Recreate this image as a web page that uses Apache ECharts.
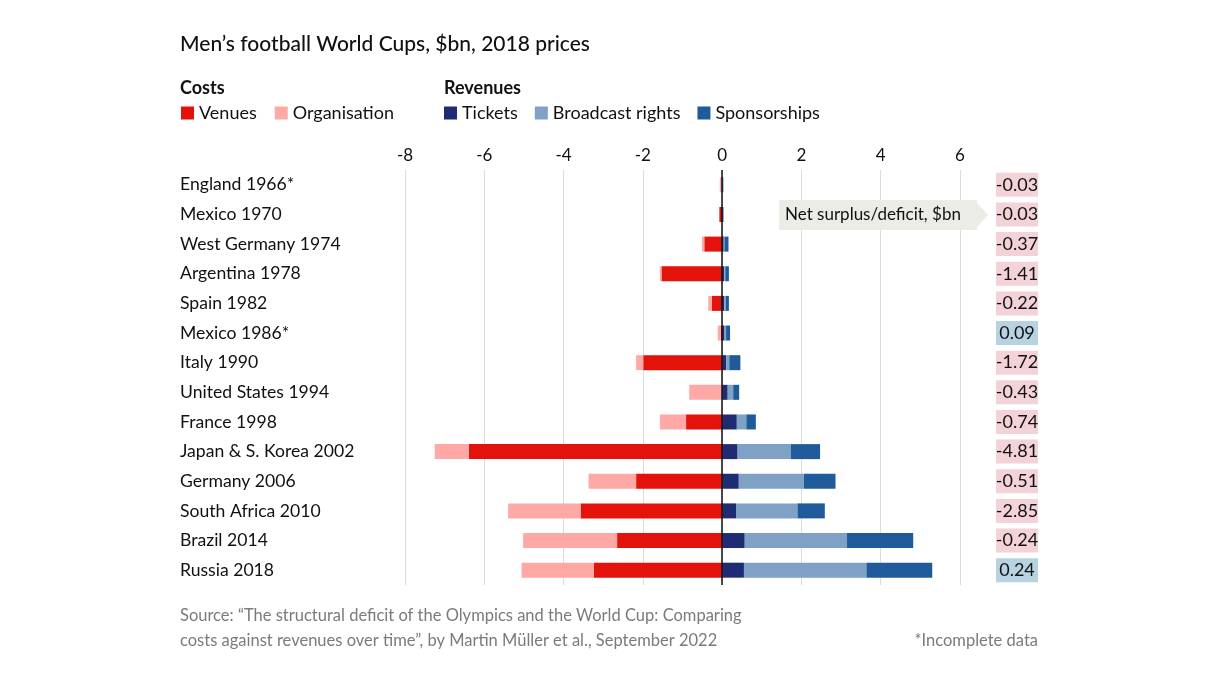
<!DOCTYPE html>
<html>
<head>
<meta charset="utf-8">
<script src="https://cdn.jsdelivr.net/npm/echarts@6/dist/echarts.min.js"></script>
<style>
html,body{margin:0;padding:0;background:#fff;}
#c{width:1226px;height:690px;}
</style>
</head>
<body>
<div id="c"></div>
<script>
const categories = ['England 1966*','Mexico 1970','West Germany 1974','Argentina 1978','Spain 1982','Mexico 1986*','Italy 1990','United States 1994','France 1998','Japan & S. Korea 2002','Germany 2006','South Africa 2010','Brazil 2014','Russia 2018'];
const venues       = [0, -0.07, -0.45, -1.53, -0.26, -0.03, -1.99, 0, -0.91, -6.39, -2.17, -3.57, -2.65, -3.24];
const organisation = [-0.06, 0, -0.06, -0.04, -0.09, -0.08, -0.18, -0.83, -0.66, -0.86, -1.20, -1.83, -2.37, -1.82];
const tickets      = [0.02, 0.02, 0.04, 0.05, 0.05, 0.06, 0.10, 0.14, 0.37, 0.39, 0.42, 0.35, 0.57, 0.55];
const broadcast    = [0.00, 0.01, 0.02, 0.03, 0.04, 0.04, 0.08, 0.14, 0.24, 1.34, 1.64, 1.55, 2.58, 3.09];
const sponsorships = [0.01, 0.01, 0.10, 0.09, 0.08, 0.10, 0.28, 0.15, 0.24, 0.74, 0.80, 0.69, 1.67, 1.66];
const netBalance   = [-0.03, -0.03, -0.37, -1.41, -0.22, 0.09, -1.72, -0.43, -0.74, -4.81, -0.51, -2.85, -0.24, 0.24];
const xTicks = [-8, -6, -4, -2, 0, 2, 4, 6];

const FONT = 'Lato';
const colors = {
  venues: '#e3120b', organisation: '#ffa9a6',
  tickets: '#1f2b73', broadcast: '#7fa1c5', sponsorships: '#1f5b9b'
};

const chart = echarts.init(document.getElementById('c'), null, {renderer: 'canvas'});

function barSeries(name, data, color, extra) {
  return Object.assign({
    name: name, type: 'bar', stack: 'all', data: data, barWidth: 15,
    itemStyle: {color: color}, emphasis: {disabled: true}, silent: true
  }, extra || {});
}

const option = {
  animation: false,
  textStyle: {fontFamily: FONT},
  title: {
    text: 'Men’s football World Cups, $bn, 2018 prices',
    left: 180, top: 34, padding: 0,
    textStyle: {fontFamily: FONT, fontSize: 21, fontWeight: 500, color: '#111'}
  },
  legend: [
    {
      data: ['Venues', 'Organisation'], left: 181, top: 104, padding: 0,
      icon: 'rect', itemWidth: 13, itemHeight: 13, itemGap: 18,
      textStyle: {fontFamily: FONT, fontSize: 18, color: '#111'},
      selectedMode: false
    },
    {
      data: ['Tickets', 'Broadcast rights', 'Sponsorships'], left: 444, top: 104, padding: 0,
      icon: 'rect', itemWidth: 13, itemHeight: 13, itemGap: 17,
      textStyle: {fontFamily: FONT, fontSize: 18, color: '#111'},
      selectedMode: false
    }
  ],
  grid: {left: 405, right: 266, top: 170, bottom: 105, containLabel: false},
  xAxis: {
    type: 'value', position: 'top', min: -8, max: 6, interval: 2,
    axisLine: {show: false}, axisTick: {show: false},
    axisLabel: {
      margin: 6, fontFamily: FONT, fontSize: 17, color: '#111',
      formatter: function (v) { return xTicks.indexOf(v) >= 0 ? String(v) : ''; }
    },
    splitLine: {show: true, lineStyle: {color: '#dcdcdc', width: 1}}
  },
  yAxis: [
    {
      type: 'category', data: categories, inverse: true,
      axisLine: {show: false}, axisTick: {show: false},
      axisLabel: {align: 'left', margin: 225, fontFamily: FONT, fontSize: 17.6, color: '#111'}
    },
    {
      type: 'category', data: categories, inverse: true, position: 'right',
      axisLine: {show: false}, axisTick: {show: false},
      axisLabel: {
        align: 'left', margin: 36,
        formatter: function (v, i) {
          const n = netBalance[i];
          return (n < 0 ? '{neg|' : '{pos|') + n.toFixed(2) + '}';
        },
        rich: {
          neg: {backgroundColor: '#f3d2d8', width: 42, height: 24, lineHeight: 24, align: 'center',
                fontFamily: FONT, fontSize: 18, color: '#111'},
          pos: {backgroundColor: '#b7d3e2', width: 42, height: 24, lineHeight: 24, align: 'center',
                fontFamily: FONT, fontSize: 18, color: '#111'}
        }
      }
    }
  ],
  series: [
    barSeries('Venues', venues, colors.venues, {
      markLine: {
        silent: true, symbol: 'none', label: {show: false},
        lineStyle: {color: '#111', width: 1.5, type: 'solid'},
        data: [{xAxis: 0}]
      }
    }),
    barSeries('Organisation', organisation, colors.organisation),
    barSeries('Tickets', tickets, colors.tickets),
    barSeries('Broadcast rights', broadcast, colors.broadcast),
    barSeries('Sponsorships', sponsorships, colors.sponsorships)
  ],
  graphic: [
    {type: 'text', left: 180, top: 79, style: {text: 'Costs', fontFamily: FONT, fontSize: 18, fontWeight: 'bold', fill: '#111'}},
    {type: 'text', left: 444, top: 79, style: {text: 'Revenues', fontFamily: FONT, fontSize: 18, fontWeight: 'bold', fill: '#111'}},
    {type: 'rect', z: 100, shape: {x: 779, y: 200, width: 198, height: 30}, style: {fill: '#ecece6'}},
    {type: 'polygon', z: 100, shape: {points: [[977, 203], [988, 215], [977, 227]]}, style: {fill: '#ecece6'}},
    {type: 'text', z: 101, x: 785, y: 215, style: {text: 'Net surplus/deficit, $bn', fontFamily: FONT, fontSize: 17, fill: '#111', verticalAlign: 'middle'}},
    {type: 'text', left: 180, top: 607, style: {text: 'Source: “The structural deficit of the Olympics and the World Cup: Comparing', fontFamily: FONT, fontSize: 16.5, fill: '#7b7b7b'}},
    {type: 'text', left: 180, top: 632, style: {text: 'costs against revenues over time”, by Martin Müller et al., September 2022', fontFamily: FONT, fontSize: 16.5, fill: '#7b7b7b'}},
    {type: 'text', right: 188, top: 632, style: {text: '*Incomplete data', fontFamily: FONT, fontSize: 16.5, fill: '#7b7b7b'}}
  ]
};
chart.setOption(option);
</script>
</body>
</html>
